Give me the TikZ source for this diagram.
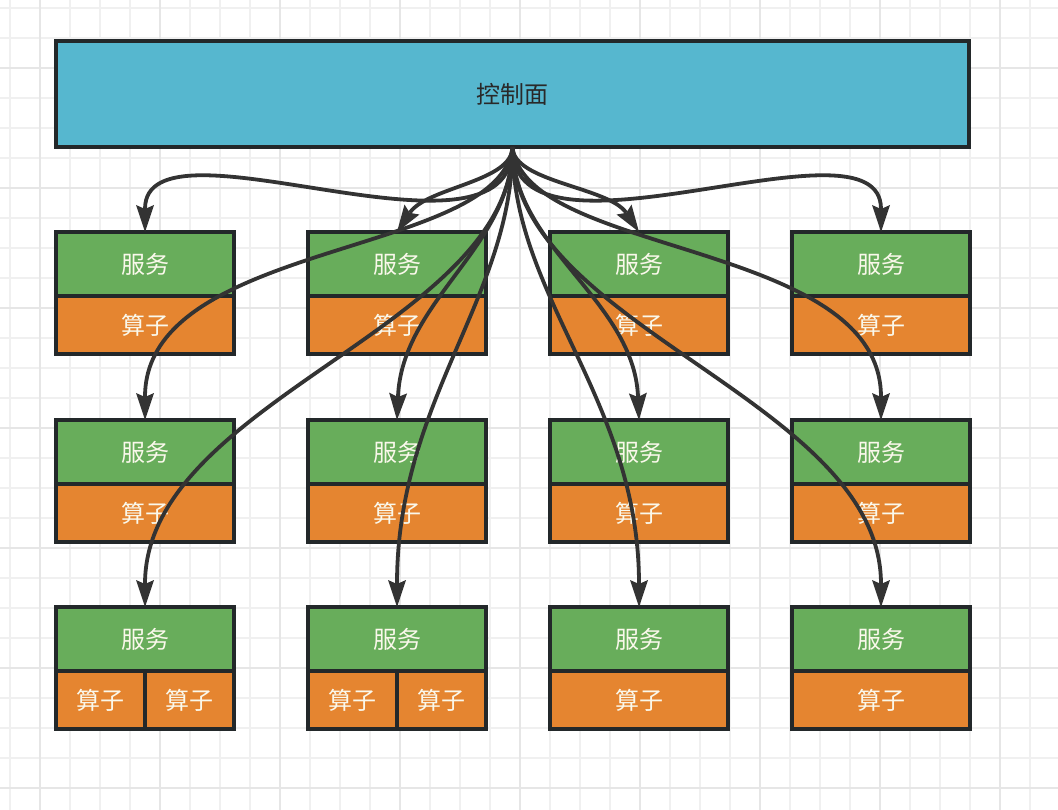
\documentclass[tikz,border=0pt]{standalone}
\usepackage{fontspec}
\usepackage{xcolor}
\usepackage{tikz}
\usetikzlibrary{arrows.meta, positioning}
\newfontfamily\cjk{Noto Sans CJK SC}
\definecolor{ctrlBlue}{RGB}{86,183,207}
\definecolor{svcGreen}{RGB}{104,173,91}
\definecolor{oprOrange}{RGB}{229,133,48}
\definecolor{boxLine}{RGB}{35,40,42}
\definecolor{flowLine}{RGB}{51,51,51}
\definecolor{boxText}{RGB}{250,248,235}
\definecolor{gridMinor}{RGB}{240,240,240}
\definecolor{gridMajor}{RGB}{230,230,230}

\tikzset{
  boxbase/.style={draw=boxLine, line width=3.4pt, inner sep=0pt, outer sep=0pt,
    font=\cjk\fontsize{24}{28}\selectfont},
  ctrlbox/.style={boxbase, fill=ctrlBlue, text=flowLine!80!black,
    minimum width=913pt, minimum height=106pt},
  svcbox/.style={boxbase, fill=svcGreen, text=boxText, anchor=north west,
    minimum width=178pt, minimum height=64pt},
  oprbox/.style={boxbase, fill=oprOrange, text=boxText,
    minimum width=178pt, minimum height=58pt},
  oprhalf/.style={oprbox, minimum width=89pt},
  flow/.style={draw=flowLine, line width=3.8pt,
    -{Stealth[length=27pt, width=18pt, inset=4pt, line width=0pt]}}
}

\begin{document}
\begin{tikzpicture}[x=1pt, y=-1pt]
  \useasboundingbox (0,0) rectangle (1058,810);
  % grid paper
  \foreach \x in {10,40,...,1050} \draw[gridMinor, line width=1.2pt] (\x,0) -- (\x,810);
  \foreach \y in {8,38,...,800} \draw[gridMinor, line width=1.2pt] (0,\y) -- (1058,\y);
  \foreach \x in {40,160,...,1000} \draw[gridMajor, line width=1.5pt] (\x,0) -- (\x,810);
  \foreach \y in {68,188,...,788} \draw[gridMajor, line width=1.5pt] (0,\y) -- (1058,\y);

  % control plane
  \node[ctrlbox] (ctrl) at (512.5,94) {控制面};

  % services -- 3 rows x 4 columns
  \foreach \c/\x in {1/56, 2/308, 3/550, 4/792}
    \foreach \r/\y in {1/232, 2/420, 3/607}
      \node[svcbox] (svc-\r-\c) at (\x,\y) {服务};

  % operators
  \foreach \r/\c in {1/1,1/2,1/3,1/4,2/1,2/2,2/3,2/4,3/3,3/4}
    \node[oprbox, below=0pt of svc-\r-\c] (opr-\r-\c) {算子};
  \foreach \c in {1,2} {
    \node[oprhalf, anchor=north west] (opr-3-\c-l) at (svc-3-\c.south west) {算子};
    \node[oprhalf, right=0pt of opr-3-\c-l] (opr-3-\c-r) {算子};
  }

  % control links
  \foreach \r/\c/\dx/\u/\ex/\v in {
    1/1/0/135/0/125, 1/2/0/35/30/45, 1/3/0/35/-30/45, 1/4/0/135/0/125,
    2/1/-12/110/0/180, 2/2/0/100/5/120, 2/3/0/100/-5/120, 2/4/12/110/0/180,
    3/1/0/180/0/207, 3/2/0/150/0/207, 3/3/0/150/0/207, 3/4/0/180/0/207}
    \draw[flow] (ctrl.south) .. controls +(\dx,\u) and +(\ex,-\v) .. (svc-\r-\c.north);
\end{tikzpicture}
\end{document}
